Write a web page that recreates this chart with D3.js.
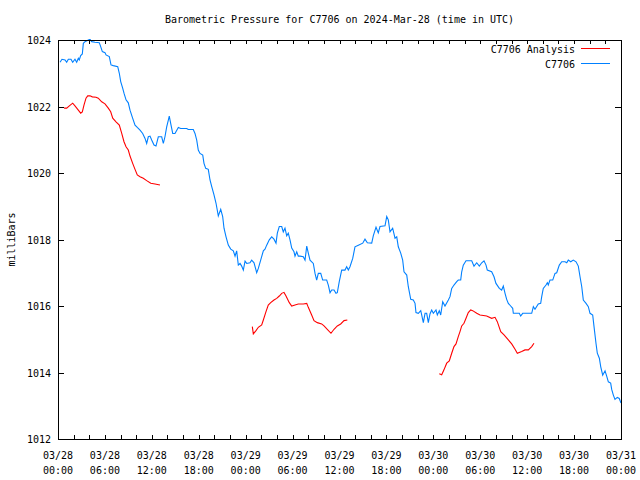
<!DOCTYPE html>
<html>
<head>
<meta charset="utf-8">
<script src="https://cdn.jsdelivr.net/npm/d3@7"></script>
<style>
  html, body { margin: 0; padding: 0; background: #fff; }
  svg text { font-family: "DejaVu Sans Mono", "Liberation Mono", monospace; font-size: 10px; fill: #000; }
</style>
</head>
<body>
<svg id="chart" width="640" height="480"></svg>
<script>
// ---- Data (hours since 2024-03-28 00:00 UTC, pressure in mb) ----
const titleText = "Barometric Pressure for C7706 on 2024-Mar-28 (time in UTC)";
const yLabel = "milliBars";
const seriesNames = ["C7706 Analysis", "C7706"];
const yTicks = [1012, 1014, 1016, 1018, 1020, 1022, 1024];
const xTickHours = [0, 6, 12, 18, 24, 30, 36, 42, 48, 54, 60, 66, 72];
const xTickLabels = [
  ["03/28","00:00"],["03/28","06:00"],["03/28","12:00"],["03/28","18:00"],
  ["03/29","00:00"],["03/29","06:00"],["03/29","12:00"],["03/29","18:00"],
  ["03/30","00:00"],["03/30","06:00"],["03/30","12:00"],["03/30","18:00"],
  ["03/31","00:00"]
];

const stationHours = [
  0.26,0.51,0.90,1.11,1.32,1.66,1.88,2.17,2.39,2.60,2.72,2.90,3.11,3.24,3.45,3.88,4.09,4.31,4.73,5.28,
  5.46,5.67,6.01,6.14,6.56,6.78,7.07,7.64,7.84,8.02,8.27,8.44,8.70,8.99,9.21,9.50,9.85,10.14,10.49,10.83,
  11.13,11.34,11.55,11.77,11.98,12.28,12.53,12.83,13.26,13.47,13.68,13.90,14.11,14.23,14.41,14.67,14.96,15.39,15.69,16.46,
  16.66,17.30,17.52,17.74,17.94,18.16,18.51,18.67,18.89,19.22,19.44,19.66,19.95,20.21,20.50,20.81,21.06,21.23,21.49,21.78,
  22.09,22.42,22.64,22.85,23.06,23.28,23.49,23.70,23.92,24.13,24.55,24.77,25.07,25.41,25.62,25.92,26.26,26.47,26.69,27.02,
  27.33,27.62,27.88,28.05,28.30,28.61,28.81,29.03,29.25,29.45,29.67,29.89,30.18,30.31,30.53,30.73,30.95,31.37,31.59,31.81,
  32.01,32.23,32.65,32.87,33.08,33.29,33.60,33.85,34.36,34.57,34.79,35.00,35.30,35.55,35.72,35.97,36.28,36.70,36.92,37.13,
  37.34,37.69,37.98,38.41,38.97,39.26,39.56,40.12,40.32,40.67,40.96,41.18,41.82,42.04,42.24,42.46,42.80,43.10,43.32,43.52,
  43.83,44.08,44.25,44.60,44.80,45.11,45.44,45.66,45.78,46.08,46.39,46.51,46.72,46.94,47.15,47.36,47.57,47.79,48.00,48.34,
  48.51,48.76,48.94,49.20,49.49,49.92,50.13,50.35,50.64,50.99,51.19,51.50,51.63,51.83,52.18,52.91,53.20,53.55,53.88,54.19,
  54.48,54.74,54.90,55.46,55.76,56.01,56.44,56.74,56.95,57.17,57.38,57.59,57.89,58.15,58.23,58.99,59.17,59.43,60.58,60.79,
  61.00,61.42,61.73,61.86,62.06,62.41,62.58,62.70,62.92,63.27,63.56,63.78,64.11,64.42,64.84,65.06,65.26,65.57,65.90,66.25,
  66.54,66.76,66.98,67.18,67.53,67.82,68.04,68.38,68.55,68.80,68.97,69.23,69.41,69.66,69.96,70.17,70.38,70.68,70.81,71.02,
  71.23,71.53,71.78,72.00
];
const stationPressure = [
  1023.33,1023.42,1023.40,1023.33,1023.42,1023.42,1023.33,1023.42,1023.33,1023.45,1023.40,1023.53,1023.58,1023.90,1023.95,1024.00,1024.02,1023.95,1023.93,1023.92,
  1023.80,1023.65,1023.62,1023.55,1023.50,1023.25,1023.23,1023.20,1023.00,1022.75,1022.55,1022.40,1022.20,1022.11,1021.89,1021.68,1021.44,1021.37,1021.29,1021.19,
  1021.04,1020.89,1021.09,1021.11,1020.99,1020.84,1020.81,1021.09,1021.09,1020.89,1021.09,1021.39,1021.59,1021.71,1021.49,1021.19,1021.19,1021.37,1021.34,1021.34,
  1021.31,1021.31,1021.19,1020.99,1020.69,1020.59,1020.54,1020.29,1020.14,1020.11,1019.79,1019.59,1019.34,1019.09,1018.71,1018.91,1018.69,1018.34,1018.08,1017.83,
  1017.71,1017.66,1017.50,1017.66,1017.23,1017.28,1017.20,1017.08,1017.35,1017.28,1017.30,1017.38,1017.30,1017.00,1017.13,1017.38,1017.66,1017.71,1017.83,1017.99,
  1018.08,1018.01,1017.89,1018.19,1018.39,1018.39,1018.23,1018.34,1018.11,1018.19,1017.99,1017.74,1017.63,1017.50,1017.63,1017.50,1017.50,1017.48,1017.38,1017.80,
  1017.59,1017.38,1017.28,1016.98,1016.78,1016.98,1016.98,1016.78,1016.78,1016.63,1016.40,1016.48,1016.48,1016.38,1016.40,1016.73,1017.08,1017.08,1017.18,1017.08,
  1017.18,1017.43,1017.78,1017.83,1017.89,1018.01,1017.90,1017.89,1018.11,1018.37,1018.20,1018.39,1018.41,1018.69,1018.59,1018.23,1018.34,1018.04,1018.08,1017.78,
  1017.59,1017.38,1017.03,1016.93,1016.58,1016.20,1016.18,1016.08,1015.80,1015.78,1015.86,1015.73,1015.50,1015.78,1015.78,1015.50,1015.76,1015.88,1015.78,1015.88,
  1015.73,1015.86,1015.73,1016.13,1016.00,1016.18,1016.28,1016.53,1016.63,1016.73,1016.78,1016.78,1017.03,1017.23,1017.36,1017.36,1017.20,1017.30,1017.20,1017.30,
  1017.36,1017.23,1017.08,1017.03,1016.88,1016.68,1016.53,1016.48,1016.60,1016.38,1016.20,1016.08,1016.00,1015.93,1015.78,1015.78,1015.70,1015.78,1015.78,1015.98,
  1015.90,1016.06,1016.08,1016.28,1016.53,1016.63,1016.70,1016.63,1016.78,1016.78,1016.98,1017.00,1017.23,1017.33,1017.33,1017.30,1017.38,1017.33,1017.38,1017.33,
  1017.20,1016.88,1016.58,1016.18,1016.08,1015.98,1015.78,1015.73,1015.38,1014.88,1014.58,1014.43,1014.17,1013.92,1014.05,1013.89,1013.72,1013.68,1013.49,1013.32,
  1013.19,1013.25,1013.22,1013.08
];

// Analysis series: three separate runs (null marks a gap)
const analysisHours = [
  0.77,1.11,1.45,1.88,2.17,2.60,2.90,3.11,3.33,3.58,3.80,4.09,4.39,4.86,5.15,5.59,6.01,6.43,6.74,7.00,
  7.42,7.84,8.15,8.44,8.70,8.99,9.21,9.55,9.85,10.14,10.49,10.91,11.34,11.86,12.41,13.04,
  null,
  24.85,24.98,25.32,25.62,26.05,26.26,26.60,26.89,27.20,27.62,27.97,28.30,28.61,28.90,29.16,29.58,29.89,30.31,30.73,31.37,
  31.81,32.01,32.44,32.74,33.16,33.72,34.02,34.44,34.91,35.30,35.72,36.15,36.58,37.00,
  null,
  48.76,49.07,49.36,49.71,50.04,50.35,50.64,50.90,51.19,51.41,51.63,51.92,52.18,52.47,52.78,53.03,53.55,53.97,54.82,55.46,
  55.89,56.18,56.62,57.04,57.59,58.02,58.45,58.74,59.30,59.72,60.15,60.58,60.87
];
const analysisPressure = [
  1021.95,1021.95,1022.02,1022.10,1022.02,1021.89,1021.80,1021.84,1022.05,1022.25,1022.32,1022.32,1022.29,1022.28,1022.25,1022.14,1022.08,1021.95,1021.84,1021.65,
  1021.54,1021.44,1021.19,1020.94,1020.79,1020.69,1020.51,1020.29,1020.11,1019.94,1019.89,1019.84,1019.77,1019.69,1019.67,1019.64,
  null,
  1015.38,1015.16,1015.26,1015.36,1015.43,1015.58,1015.83,1016.03,1016.10,1016.18,1016.23,1016.30,1016.38,1016.41,1016.30,1016.10,1016.00,1016.03,1016.06,1016.06,
  1016.08,1015.96,1015.73,1015.56,1015.50,1015.46,1015.40,1015.30,1015.18,1015.30,1015.40,1015.46,1015.56,1015.58,
  null,
  1013.96,1013.93,1014.08,1014.28,1014.35,1014.58,1014.78,1014.86,1015.08,1015.23,1015.40,1015.48,1015.63,1015.80,1015.88,1015.86,1015.78,1015.73,1015.70,1015.63,
  1015.66,1015.53,1015.23,1015.13,1014.98,1014.86,1014.70,1014.58,1014.63,1014.68,1014.68,1014.78,1014.88
];

// ---- Layout ----
const W = 640, H = 480;
const m = { left: 58, right: 19, top: 40, bottom: 41 };
const pw = W - m.left - m.right, ph = H - m.top - m.bottom;
const colors = { analysis: "#ff0000", station: "#0080ff" };

const svg = d3.select("#chart");
const g = svg.append("g").attr("transform", `translate(${m.left},${m.top})`);

const x = d3.scaleLinear().domain([0, 72]).range([0, pw]);
const y = d3.scaleLinear().domain([1012, 1024]).range([ph, 0]);

const stationData = stationHours.map((h, i) => ({ h, v: stationPressure[i] }));
const analysisData = analysisHours.map((h, i) => ({ h, v: analysisPressure[i] }));

svg.append("defs").append("clipPath").attr("id", "clip")
  .append("rect").attr("x", 0).attr("y", -1).attr("width", pw).attr("height", ph + 1);

const line = d3.line()
  .defined(d => d.h !== null && d.v !== null)
  .x(d => x(d.h)).y(d => y(d.v));

const plot = g.append("g").attr("clip-path", "url(#clip)");
plot.append("path").datum(analysisData)
  .attr("fill", "none").attr("stroke", colors.analysis).attr("stroke-width", 1.1)
  .attr("d", line);
plot.append("path").datum(stationData)
  .attr("fill", "none").attr("stroke", colors.station).attr("stroke-width", 1.1)
  .attr("d", line);

// ---- Axes ----
const minorHours = d3.range(0, 73, 2);

const minorB = g.append("g").attr("transform", `translate(0,${ph})`)
  .call(d3.axisBottom(x).tickValues(minorHours).tickSizeInner(-4).tickSizeOuter(0).tickFormat(""));
minorB.select(".domain").remove();
const minorT = g.append("g")
  .call(d3.axisTop(x).tickValues(minorHours).tickSizeInner(-4).tickSizeOuter(0).tickFormat(""));
minorT.select(".domain").remove();

// x labels (two lines)
const xl = g.append("g");
xTickHours.forEach((h, i) => {
  const t = xl.append("text").attr("text-anchor", "middle")
    .attr("transform", `translate(${x(h)},${ph})`);
  t.append("tspan").attr("x", 0).attr("y", 20).text(xTickLabels[i][0]);
  t.append("tspan").attr("x", 0).attr("y", 35).text(xTickLabels[i][1]);
});

// left
const yAxis = g.append("g")
  .call(d3.axisLeft(y).tickValues(yTicks).tickSizeInner(-6).tickSizeOuter(0).tickPadding(7).tickFormat(d3.format("d")));
yAxis.select(".domain").remove();
yAxis.selectAll("text").attr("dy", "0.35em");
// right
const yAxisR = g.append("g").attr("transform", `translate(${pw},0)`)
  .call(d3.axisRight(y).tickValues(yTicks).tickSizeInner(-6).tickSizeOuter(0).tickFormat(""));
yAxisR.select(".domain").remove();

g.selectAll(".tick line").attr("stroke", "#000").attr("shape-rendering", "crispEdges");
g.selectAll(".tick text").style("font-family", "'DejaVu Sans Mono', monospace").style("font-size", "10px");

// frame
g.append("rect").attr("x", 0).attr("y", 0).attr("width", pw).attr("height", ph)
  .attr("fill", "none").attr("stroke", "#000").attr("stroke-width", 1).attr("shape-rendering", "crispEdges");

// title
svg.append("text").attr("x", m.left + pw / 2).attr("y", 23).attr("text-anchor", "middle").text(titleText);

// y label
svg.append("text").attr("transform", `translate(15,${m.top + ph / 2}) rotate(-90)`)
  .attr("text-anchor", "middle").text(yLabel);

// legend
const legend = svg.append("g");
const legendItems = [
  { name: seriesNames[0], color: colors.analysis, yy: 48 },
  { name: seriesNames[1], color: colors.station, yy: 63 }
];
legendItems.forEach(it => {
  legend.append("text").attr("x", 575).attr("y", it.yy + 5).attr("text-anchor", "end").text(it.name);
  legend.append("line").attr("x1", 581).attr("x2", 610).attr("y1", it.yy).attr("y2", it.yy)
    .attr("stroke", it.color).attr("stroke-width", 1).attr("shape-rendering", "crispEdges");
});
</script>
</body>
</html>
